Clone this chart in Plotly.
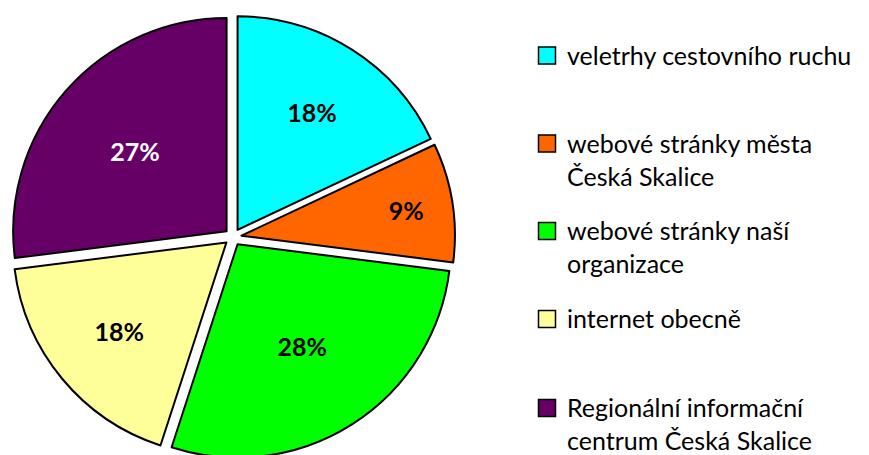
import plotly.graph_objects as go

labels = ["veletrhy cestovního ruchu", "webové stránky města<br>Česká Skalice",
          "webové stránky naší<br>organizace", "internet obecně",
          "Regionální informační<br>centrum Česká Skalice"]
values = [18, 9, 28, 18, 27]
colors = ["#00FFFF", "#FF6600", "#00FF00", "#FFFF99", "#660066"]
text_colors = ["black", "black", "black", "black", "white"]

W, H = 869, 455
OFF = 8  # page body margin offset
cx, cy, R = 225, 229, 222
fig = go.Figure(go.Pie(
    labels=labels, values=values, sort=False, direction="clockwise", rotation=0,
    marker=dict(colors=colors, line=dict(color="black", width=2)),
    pull=0.04,
    texttemplate="%{value}%",
    textposition="inside", insidetextorientation="horizontal",
    textfont=dict(family="Lato", size=25, color=text_colors, weight="bold"),
    domain=dict(x=[(cx - R) / W, (cx + R) / W], y=[(H - cy - R) / H, (H - cy + R) / H]),
    hoverinfo="skip", showlegend=False,
))

# legend drawn as layout items (one row per category)
leg_center = [55.5, 143.5, 231, 319, 408]  # legend row positions (screen px from top)
sq = 17
for lab, col, ly in zip(labels, colors, leg_center):
    yy = ly - OFF
    fig.add_shape(type="rect", xref="paper", yref="paper",
                  x0=(538.5 - OFF) / W, x1=(538.5 - OFF + sq) / W,
                  y0=1 - (yy + sq / 2) / H, y1=1 - (yy - sq / 2) / H,
                  fillcolor=col, line=dict(color="black", width=1.5))
    fig.add_annotation(x=557 / W, y=1 - (ly - 26) / H, xref="paper", yref="paper",
                       xanchor="left", yanchor="top", align="left", showarrow=False,
                       text=lab, font=dict(family="Lato", size=25, color="black"))

fig.update_layout(
    width=W, height=H, margin=dict(l=0, r=0, t=0, b=0),
    paper_bgcolor="white", plot_bgcolor="white",
    uniformtext=dict(minsize=22, mode="show"),
)
fig.write_html("out.html")
